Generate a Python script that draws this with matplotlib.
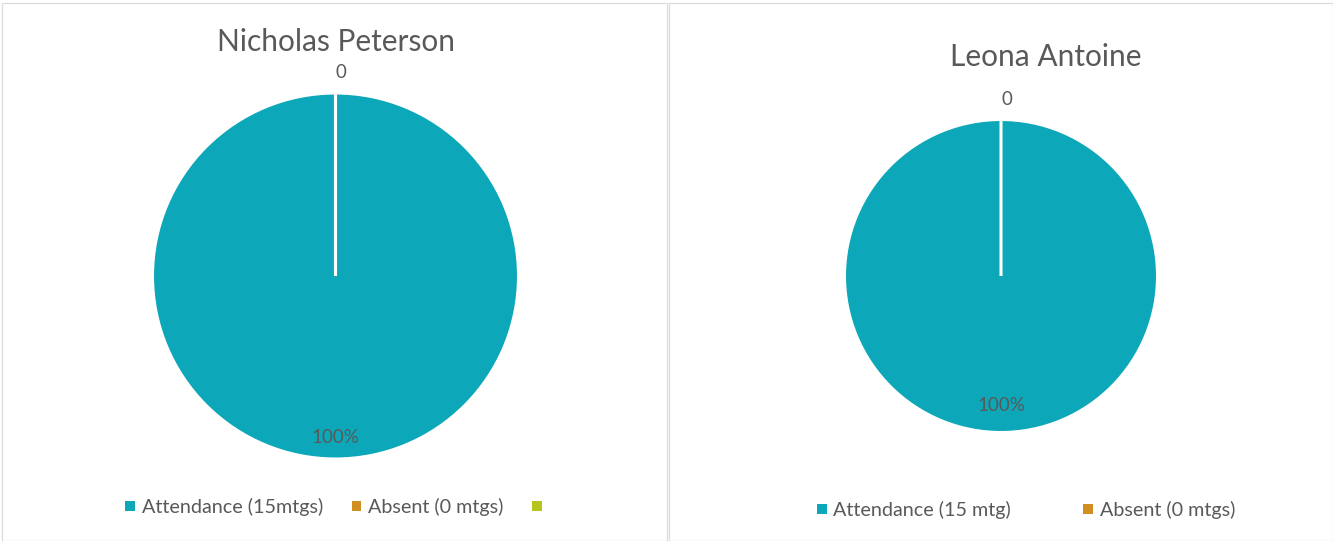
import matplotlib
matplotlib.use('Agg')
import matplotlib.pyplot as plt
from matplotlib.patches import Rectangle

plt.rcParams['font.family'] = ['Lato', 'DejaVu Sans']

# data
names = ['Nicholas Peterson', 'Leona Antoine']
left_labels = ['Attendance (15mtgs)', 'Absent (0 mtgs)', '']
left_vals = [15, 0, 0]
right_labels = ['Attendance (15 mtg)', 'Absent (0 mtgs)']
right_vals = [15, 0]
colors = ['#0ca7b8', '#d08f1e', '#b6c41b']
grey = '#595959'

W, H = 1333, 541
fig = plt.figure(figsize=(W / 100, H / 100), dpi=100)

# chart area borders
for x0, x1 in [(2, 667), (669, 1333)]:
    fig.patches.append(Rectangle((x0 / W, 0.0), (x1 - x0) / W, (H - 3) / H,
                                 transform=fig.transFigure, fill=False,
                                 edgecolor='#dcdcdc', linewidth=0.9))


def pct(p):
    return '%d%%' % round(p) if p > 0 else ''


def draw(cx, cy, r, vals, labels, title, tx, ty, pd, ld, legx, legy, cs):
    ax = fig.add_axes([(cx - r) / W, 1 - (cy + r) / H, 2 * r / W, 2 * r / H])
    nums = ['' if i != 1 else str(v) for i, v in enumerate(vals)]
    wedges, txt, auto = ax.pie(vals, colors=colors[:len(vals)], startangle=90,
                               counterclock=False, labels=nums, labeldistance=ld,
                               autopct=pct, pctdistance=pd,
                               wedgeprops=dict(edgecolor='white', linewidth=2.2),
                               textprops=dict(color=grey, fontsize=13.5))
    ax.set_xlim(-1, 1)
    ax.set_ylim(-1, 1)
    ax.set_aspect('equal')
    fig.text(tx / W, 1 - ty / H, title, ha='center', va='center',
             fontsize=21.5, color=grey)
    leg = fig.legend(wedges, labels, loc='center', bbox_to_anchor=(legx / W, 1 - legy / H),
                     ncol=len(labels), frameon=False, fontsize=14.2,
                     handlelength=0.5, handleheight=0.35, handletextpad=0.35,
                     columnspacing=cs, labelcolor=grey)
    for h in leg.legend_handles:
        h.set_edgecolor('none')


draw(335.5, 276, 183, left_vals, left_labels, names[0], 336, 42, 0.885, 1.11, 337, 507, 1.45)
draw(1001, 276, 156.5, right_vals, right_labels, names[1], 1046, 57, 0.83, 1.13, 1026, 510, 3.65)

fig.savefig('out.png', dpi=100, facecolor='white')
